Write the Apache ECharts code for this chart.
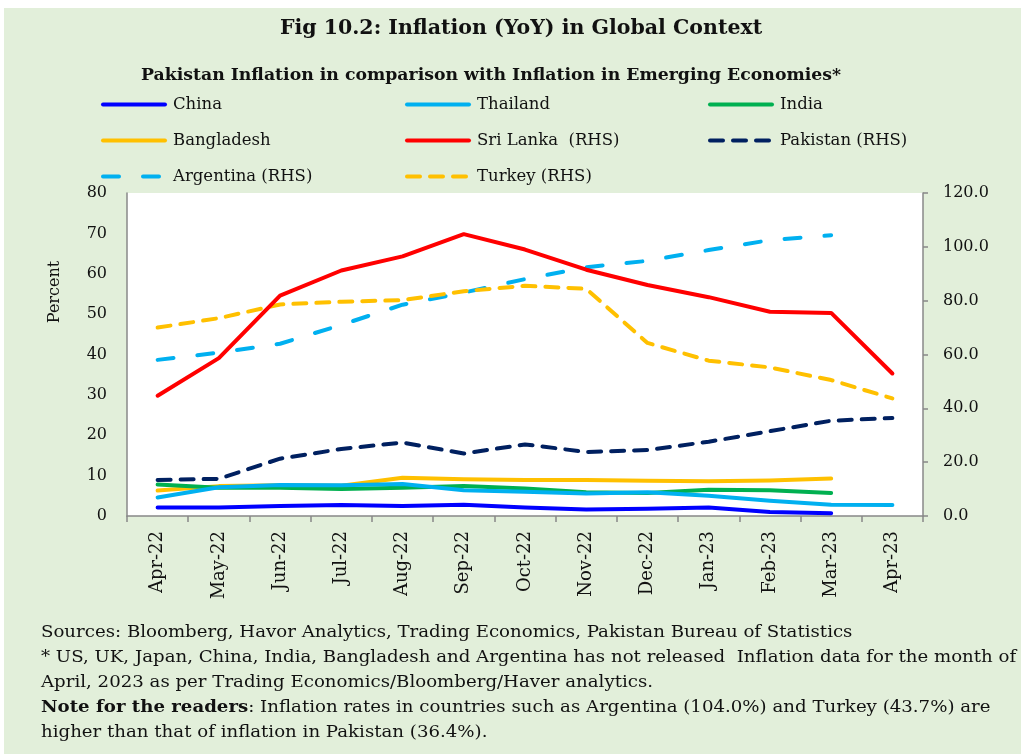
<!DOCTYPE html>
<html>
<head>
<meta charset="utf-8">
<script src="https://cdn.jsdelivr.net/npm/echarts@6/dist/echarts.min.js"></script>
<style>
html,body{margin:0;padding:0;background:#fff;}
#chart{width:1021px;height:754px;}
</style>
</head>
<body>
<div id="chart"></div>
<script>
var categories = ['Apr-22','May-22','Jun-22','Jul-22','Aug-22','Sep-22','Oct-22','Nov-22','Dec-22','Jan-23','Feb-23','Mar-23','Apr-23'];
var china      = [2.1, 2.1, 2.5, 2.7, 2.5, 2.8, 2.1, 1.6, 1.8, 2.1, 1.0, 0.7, null];
var thailand   = [4.6, 7.1, 7.7, 7.6, 7.9, 6.4, 6.0, 5.6, 5.9, 5.0, 3.8, 2.8, 2.7];
var india      = [7.8, 7.0, 7.0, 6.7, 7.0, 7.4, 6.8, 5.9, 5.7, 6.5, 6.4, 5.7, null];
var bangladesh = [6.3, 7.4, 7.6, 7.5, 9.5, 9.1, 8.9, 8.9, 8.7, 8.6, 8.8, 9.3, null];
var sriLanka   = [29.8, 39.1, 54.6, 60.8, 64.3, 69.8, 66.0, 61.0, 57.2, 54.2, 50.6, 50.3, 35.3];
var pakistan   = [13.4, 13.8, 21.3, 24.9, 27.3, 23.2, 26.6, 23.8, 24.5, 27.6, 31.5, 35.4, 36.4];
var argentina  = [58.0, 60.7, 64.0, 71.0, 78.5, 83.0, 88.0, 92.4, 94.8, 98.8, 102.5, 104.3, null];
var turkey     = [70.0, 73.5, 78.6, 79.6, 80.2, 83.5, 85.5, 84.4, 64.3, 57.7, 55.2, 50.5, 43.7];
var leftTicks  = {min: 0, max: 80, interval: 10};
var rightTicks = {min: 0, max: 120, interval: 20};
var titleText = 'Fig 10.2: Inflation (YoY) in Global Context';
var subtitleText = 'Pakistan Inflation in comparison with Inflation in Emerging Economies*';
var footLines = [
  'Sources: Bloomberg, Havor Analytics, Trading Economics, Pakistan Bureau of Statistics',
  '* US, UK, Japan, China, India, Bangladesh and Argentina has not released  Inflation data for the month of',
  'April, 2023 as per Trading Economics/Bloomberg/Haver analytics.',
  '{b|Note for the readers}: Inflation rates in countries such as Argentina (104.0%) and Turkey (43.7%) are',
  'higher than that of inflation in Pakistan (36.4%).'
];

var FONT = 'DejaVu Serif';
var chart = echarts.init(document.getElementById('chart'), null, {renderer: 'canvas'});

function mk(name, data, color, yIdx, dash, z) {
  return {
    name: name, type: 'line', data: data, yAxisIndex: yIdx,
    symbol: 'none', showSymbol: false, connectNulls: false, z: z || 2,
    lineStyle: {color: color, width: 4, type: dash || 'solid', cap: 'round', join: 'round'},
    itemStyle: {color: color},
    emphasis: {disabled: true}
  };
}

var series = [
  mk('Bangladesh', bangladesh, '#FFC000', 0, null, 3),
  mk('India', india, '#00B050', 0, null, 3),
  mk('Thailand', thailand, '#00B0F0', 0, null, 3),
  mk('China', china, '#0000FF', 0, null, 4),
  mk('Pakistan (RHS)', pakistan, '#002060', 1, [13, 10], 3),
  mk('Argentina (RHS)', argentina, '#00B0F0', 1, [16, 24], 3),
  mk('Turkey (RHS)', turkey, '#FFC000', 1, [13, 10], 3),
  mk('Sri Lanka  (RHS)', sriLanka, '#FF0000', 0, null, 5)
];

function legendCol(left, data) {
  return {
    orient: 'vertical', left: left, top: 96, padding: 0,
    itemWidth: 62, itemHeight: 14, itemGap: 19,
    data: data, selectedMode: false,
    textStyle: {fontFamily: FONT, fontSize: 16.5, color: '#111', padding: [0, 0, 0, 3]},
    lineStyle: {width: 4, cap: 'round'},
    itemStyle: {opacity: 0}
  };
}

var footGraphics = footLines.map(function (t, i) {
  return {
    type: 'text', x: 41, y: 633 + i * 25, scaleX: 1.135, silent: true,
    style: {
      text: t, x: 0, y: 0, fill: '#111',
      font: '16px "' + FONT + '"',
      textVerticalAlign: 'middle', verticalAlign: 'middle',
      rich: {b: {fontFamily: FONT, fontSize: 16, fontWeight: 'bold', fill: '#111', color: '#111'}}
    }
  };
});

var option = {
  animation: false,
  backgroundColor: '#E2EFDA',
  title: [
    {text: titleText, left: 516, top: 13, textAlign: 'center',
     textStyle: {fontFamily: FONT, fontSize: 20.5, fontWeight: 'bold', color: '#111'}},
    {text: subtitleText, left: 486, top: 62, textAlign: 'center',
     textStyle: {fontFamily: FONT, fontSize: 17.3, fontWeight: 'bold', color: '#111'}}
  ],
  legend: [
    legendCol(101, ['China', 'Bangladesh', 'Argentina (RHS)']),
    legendCol(405, ['Thailand', 'Sri Lanka  (RHS)', 'Turkey (RHS)']),
    legendCol(708, ['India', 'Pakistan (RHS)'])
  ],
  grid: {left: 127, right: 98, top: 193, bottom: 238, show: true, backgroundColor: '#ffffff', borderWidth: 0},
  xAxis: {
    type: 'category', data: categories, boundaryGap: true,
    axisLine: {lineStyle: {color: '#888', width: 1.5}},
    axisTick: {show: true, length: 6, lineStyle: {color: '#888', width: 1.5}},
    axisLabel: {rotate: 90, margin: 15, fontFamily: FONT, fontSize: 18, color: '#111', interval: 0}
  },
  yAxis: [
    {type: 'value', min: leftTicks.min, max: leftTicks.max, interval: leftTicks.interval, position: 'left',
     axisLine: {show: true, lineStyle: {color: '#888', width: 1.5}},
     axisTick: {show: false}, splitLine: {show: false},
     axisLabel: {margin: 20, fontFamily: FONT, fontSize: 16, color: '#111'}},
    {type: 'value', min: rightTicks.min, max: rightTicks.max, interval: rightTicks.interval, position: 'right',
     axisLine: {show: true, lineStyle: {color: '#888', width: 1.5}},
     axisTick: {show: true, length: 5, lineStyle: {color: '#888', width: 1.5}}, splitLine: {show: false},
     axisLabel: {margin: 20, fontFamily: FONT, fontSize: 16, color: '#111',
       formatter: function (v) { return v.toFixed(1); }}}
  ],
  graphic: [
    {type: 'rect', x: 0, y: 0, shape: {width: 1021, height: 8}, style: {fill: '#ffffff'}, silent: true, z: 100},
    {type: 'rect', x: 0, y: 0, shape: {width: 4, height: 754}, style: {fill: '#ffffff'}, silent: true, z: 100},
    {type: 'text', x: 55, y: 292, rotation: Math.PI / 2, silent: true,
     style: {text: 'Percent', x: 0, y: 0, fill: '#111', font: '16px "' + FONT + '"',
       textAlign: 'center', textVerticalAlign: 'middle', align: 'center', verticalAlign: 'middle'}}
  ].concat(footGraphics),
  series: series
};
chart.setOption(option);
</script>
</body>
</html>
